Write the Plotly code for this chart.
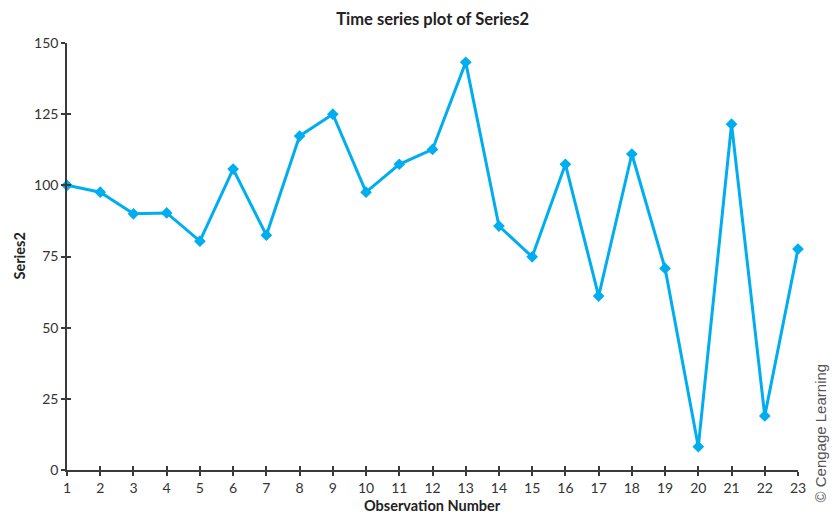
import plotly.graph_objects as go

# Observation numbers and Series2 values
observation = list(range(1, 24))
series2 = [100.0, 97.6, 90.0, 90.3, 80.4, 105.7, 82.5, 117.3, 125.0, 97.6,
           107.4, 112.6, 143.2, 85.7, 74.9, 107.4, 61.1, 111.0, 70.8, 8.2,
           121.5, 19.0, 77.6]
y_ticks = [0, 25, 50, 75, 100, 125, 150]

line_color = "#00AEEF"
axis_color = "#3a3a3a"
font_family = "Lato, 'Open Sans', sans-serif"

fig = go.Figure()
fig.add_trace(go.Scatter(
    x=observation, y=series2, mode="lines+markers",
    line=dict(color=line_color, width=3),
    marker=dict(symbol="diamond", size=9, color=line_color),
    cliponaxis=False, showlegend=False,
))

axis_common = dict(showgrid=False, zeroline=False, showline=True,
                   linecolor=axis_color, linewidth=1.5,
                   tickcolor=axis_color, tickwidth=1.5, ticklen=4,
                   automargin=False,
                   tickfont=dict(size=14, color="#333333", family=font_family))

fig.update_layout(
    width=832, height=518,
    margin=dict(l=67, r=34, t=43, b=48),
    paper_bgcolor="white", plot_bgcolor="white",
    title=dict(text="<b>Time series plot of Series2</b>", x=0.52, xanchor="center",
               y=0.975, yanchor="top",
               font=dict(size=16.5, color="#222222", family=font_family)),
    xaxis=dict(range=[1, 23], tickmode="array", tickvals=observation,
               ticks="outside", **axis_common),
    yaxis=dict(range=[0, 150], tickmode="array", tickvals=y_ticks,
               ticks="outside", **axis_common),
    # overlay axes carrying the inner half of the crossing ticks
    xaxis2=dict(range=[1, 23], overlaying="x", tickmode="array", tickvals=observation,
                ticks="inside", showticklabels=False, side="bottom", anchor="y",
                showgrid=False, zeroline=False, showline=False,
                tickcolor=axis_color, tickwidth=1.5, ticklen=4),
    yaxis2=dict(range=[0, 150], overlaying="y", tickmode="array", tickvals=y_ticks,
                ticks="inside", showticklabels=False, side="left", anchor="x",
                showgrid=False, zeroline=False, showline=False,
                tickcolor=axis_color, tickwidth=1.5, ticklen=4),
)

# invisible trace to activate the overlay axes
fig.add_trace(go.Scatter(x=[1], y=[0], xaxis="x2", yaxis="y2", mode="markers",
                         marker=dict(opacity=0), showlegend=False, hoverinfo="skip"))

# axis titles
fig.add_annotation(
    text="<b>Observation Number</b>", xref="paper", yref="paper",
    x=0.5, y=0.0, yshift=-46, xanchor="center", yanchor="bottom", showarrow=False,
    font=dict(size=14.5, color="#222222", family=font_family),
)
fig.add_annotation(
    text="<b>Series2</b>", xref="paper", yref="paper",
    x=0.0, y=0.5, xshift=-48, xanchor="center", yanchor="middle",
    textangle=-90, showarrow=False,
    font=dict(size=14.5, color="#222222", family=font_family),
)

fig.add_annotation(
    text="© Cengage Learning", xref="paper", yref="paper",
    x=1.0, y=0.0, xshift=22, yshift=-35, xanchor="center", yanchor="bottom",
    textangle=-90, showarrow=False,
    font=dict(size=15, color="#555555", family="Liberation Sans, Arial, sans-serif"),
)

fig.write_html("out.html")
